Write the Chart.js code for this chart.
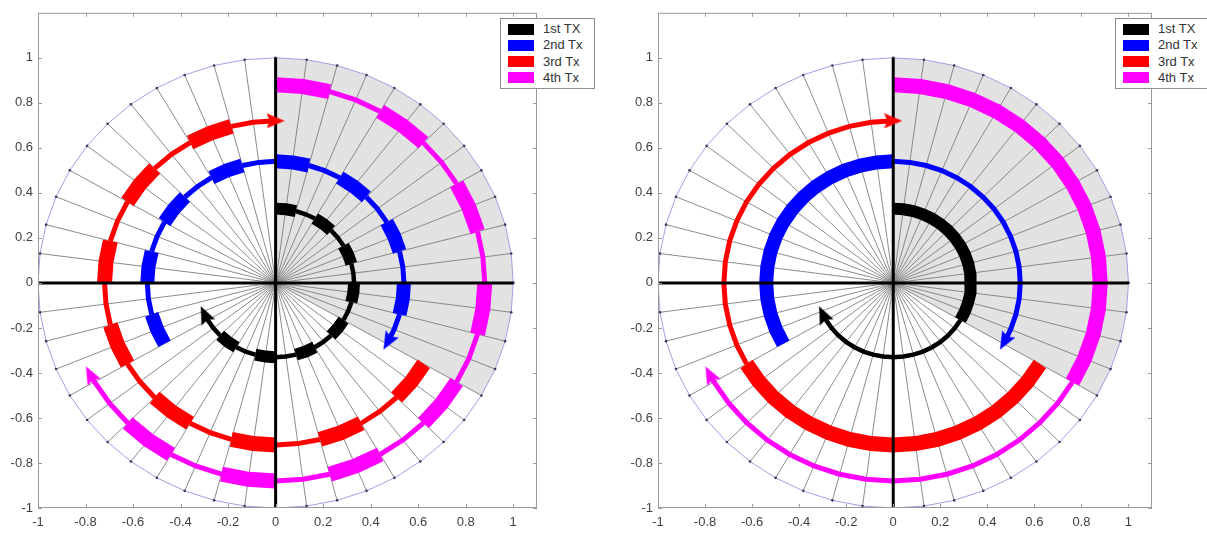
<!DOCTYPE html>
<html>
<head>
<meta charset="utf-8">
<script src="https://cdn.jsdelivr.net/npm/chart.js@4.4.1/dist/chart.umd.min.js"></script>
<style>
  body { margin: 0; background: #fff; }
  #wrap { position: relative; width: 1207px; height: 535px; overflow: hidden; }
  #wrap canvas { position: absolute; top: 0; }
  .legend { position: absolute; top: 18px; height: 67px; padding-top: 2px; box-sizing: content-box;
            background: #fff; border: 1px solid #8c8c8c;
            font: 13px "Liberation Sans", Arial, sans-serif; color: #333; }
  .legend .row { position: relative; height: 16.3px; line-height: 16.3px; white-space: nowrap; }
  .legend .sw { position: absolute; left: 7px; top: 2.5px; width: 26px; height: 11px; }
  .legend .tx { position: absolute; left: 42px; top: 0; }
</style>
</head>
<body>
<div id="wrap">
  <canvas id="chartLeft" width="600" height="535" style="left:0"></canvas>
  <canvas id="chartRight" width="587" height="535" style="left:620px"></canvas>
</div>
<script>
// series, one ring per transmission, travelling clockwise (angles in degrees)
const seriesNames = ["1st TX", "2nd Tx", "3rd Tx", "4th Tx"];
const seriesColors = ["#000000", "#0000ff", "#ff0000", "#ff00ff"];
const radii = [0.33, 0.54, 0.72, 0.88];
const startAngles = [90, 210, -30, 90];
const endAngles = [-155, -29, -270, -152.5];
const thinWidths = [4.5, 5, 5, 5];
const thickWidths = [12, 14, 15, 15];

// left plot: short thick pulses
const pulseLen = 15;
const pulsePeriod = 30;
// right plot: one long thick stretch per TX
const thickFrom = [90, 210, -30, 90];
const thickTo = [-30, 90, -150, -30];

// background wheel
const spokeStep = 7.5;
const sectorFrom = 90;
const sectorTo = -30;

const xTicks = [-1, -0.8, -0.6, -0.4, -0.2, 0, 0.2, 0.4, 0.6, 0.8, 1];
const yTicks = [-1, -0.8, -0.6, -0.4, -0.2, 0, 0.2, 0.4, 0.6, 0.8, 1];

Chart.defaults.font.family = "'Liberation Sans', Arial, sans-serif";

const rad = d => d * Math.PI / 180;
const pol = (r, a) => ({ x: r * Math.cos(rad(a)), y: r * Math.sin(rad(a)) });

function arcAngles(a0, a1) {
  const out = [];
  for (let a = a0; a > a1; a -= spokeStep) out.push(a);
  out.push(a1);
  return out;
}

function spokeData() {
  const pts = [];
  for (let a = 0; a < 360; a += spokeStep) {
    pts.push({ x: 0, y: 0 }, pol(1, a), { x: null, y: null });
  }
  return pts;
}

const pulseRule = (i, a) => ((((90 - a) % pulsePeriod) + pulsePeriod) % pulsePeriod) < pulseLen;
const stretchRule = (i, a) => a <= thickFrom[i] && a > thickTo[i];

function txDatasets(thickRule) {
  return seriesNames.map((name, i) => {
    const angs = arcAngles(startAngles[i], endAngles[i]);
    const last = angs.length - 2;
    return {
      label: name,
      data: angs.map(a => pol(radii[i], a)),
      borderColor: seriesColors[i],
      borderWidth: thinWidths[i],
      borderCapStyle: "butt",
      borderJoinStyle: "miter",
      pointRadius: 0,
      segment: {
        borderWidth: ctx => (ctx.p0DataIndex < last && thickRule(i, angs[ctx.p0DataIndex]))
          ? thickWidths[i] : thinWidths[i]
      },
      order: 3
    };
  });
}

function baseDatasets() {
  return [
    {
      label: "sector",
      data: [{ x: 0, y: 0 }, ...arcAngles(sectorFrom, sectorTo).map(a => pol(1, a)), { x: 0, y: 0 }],
      fill: "shape",
      backgroundColor: "#e2e2e2",
      borderWidth: 0,
      pointRadius: 0,
      order: 6
    },
    {
      label: "spokes",
      data: spokeData(),
      borderColor: "#777",
      borderWidth: 0.85,
      pointRadius: 0,
      spanGaps: false,
      order: 5
    },
    {
      label: "rim",
      data: arcAngles(360, 0).map(a => pol(1, a)),
      borderColor: "#a0a0e0",
      borderWidth: 1,
      pointRadius: 1.3,
      pointBackgroundColor: "#3a3a5a",
      pointBorderWidth: 0,
      order: 4
    },
    {
      label: "axes",
      data: [{ x: -1, y: 0 }, { x: 1, y: 0 }, { x: null, y: null }, { x: 0, y: -1 }, { x: 0, y: 1 }],
      borderColor: "#000",
      borderWidth: 3,
      pointRadius: 0,
      spanGaps: false,
      order: 2
    }
  ];
}

// arrow head sprite, tip pointing up
function arrowHead(color) {
  const c = document.createElement("canvas");
  c.width = 15; c.height = 18;
  const g = c.getContext("2d");
  g.fillStyle = color;
  g.beginPath();
  g.moveTo(7.5, 0);
  g.lineTo(15, 18);
  g.lineTo(7.5, 15);
  g.lineTo(0, 18);
  g.closePath();
  g.fill();
  return c;
}

function arrowDataset() {
  return {
    label: "arrows",
    data: endAngles.map((a, i) => pol(radii[i], a)),
    showLine: false,
    pointStyle: seriesColors.map(arrowHead),
    pointRadius: 9,
    pointRotation: endAngles.map(a => Math.atan2(Math.sin(rad(a)), -Math.cos(rad(a))) * 180 / Math.PI),
    pointBackgroundColor: seriesColors,
    pointBorderWidth: 0,
    order: 1
  };
}

const framePlugin = {
  id: "frame",
  afterDraw(chart) {
    const { ctx, chartArea: a, scales: { x, y } } = chart;
    ctx.save();
    ctx.strokeStyle = "#9a9a9a";
    ctx.lineWidth = 1;
    ctx.strokeRect(a.left + 0.5, a.top + 0.5, a.width - 1, a.height - 1);
    ctx.beginPath();
    x.ticks.forEach(t => {
      const px = Math.round(x.getPixelForValue(t.value)) + 0.5;
      ctx.moveTo(px, a.bottom); ctx.lineTo(px, a.bottom - 4);
      ctx.moveTo(px, a.top); ctx.lineTo(px, a.top + 4);
    });
    y.ticks.forEach(t => {
      const py = Math.round(y.getPixelForValue(t.value)) + 0.5;
      ctx.moveTo(a.left, py); ctx.lineTo(a.left + 4, py);
      ctx.moveTo(a.right, py); ctx.lineTo(a.right - 4, py);
    });
    ctx.stroke();
    ctx.restore();
  }
};

function fmt(v) { return String(Math.round(v * 10) / 10); }

function makeChart(id, thickRule, rightPad) {
  return new Chart(document.getElementById(id), {
    type: "line",
    data: { datasets: [...baseDatasets(), ...txDatasets(thickRule), arrowDataset()] },
    options: {
      responsive: false,
      animation: false,
      events: [],
      layout: { padding: { top: 10, right: rightPad, left: 0, bottom: 0 } },
      plugins: { legend: { display: false }, tooltip: { enabled: false } },
      scales: {
        x: {
          type: "linear", min: -1, max: 1.1,
          afterBuildTicks: s => { s.ticks = xTicks.map(v => ({ value: v })); },
          afterFit: s => { s.height = 27; },
          grid: { display: false, drawTicks: false },
          border: { display: false },
          ticks: { color: "#404040", font: { size: 13 }, padding: 7, maxRotation: 0, autoSkip: false, callback: fmt }
        },
        y: {
          type: "linear", min: -1, max: 1.2,
          afterBuildTicks: s => { s.ticks = yTicks.map(v => ({ value: v })); },
          afterFit: s => { s.width = 38; },
          grid: { display: false, drawTicks: false },
          border: { display: false },
          ticks: { color: "#404040", font: { size: 13 }, padding: 5, autoSkip: false, callback: fmt }
        }
      }
    },
    plugins: [framePlugin]
  });
}

function buildLegend(chart, offsetLeft) {
  const box = document.createElement("div");
  box.className = "legend";
  box.style.left = (offsetLeft + chart.chartArea.right - 37) + "px";
  box.style.width = "93px";
  seriesNames.forEach((name, i) => {
    const row = document.createElement("div");
    row.className = "row";
    const sw = document.createElement("span");
    sw.className = "sw";
    sw.style.background = seriesColors[i];
    const tx = document.createElement("span");
    tx.className = "tx";
    tx.textContent = name;
    row.appendChild(sw);
    row.appendChild(tx);
    box.appendChild(row);
  });
  document.getElementById("wrap").appendChild(box);
}

const leftChart = makeChart("chartLeft", pulseRule, 63);
const rightChart = makeChart("chartRight", stretchRule, 55);
buildLegend(leftChart, 0);
buildLegend(rightChart, 620);
</script>
</body>
</html>
